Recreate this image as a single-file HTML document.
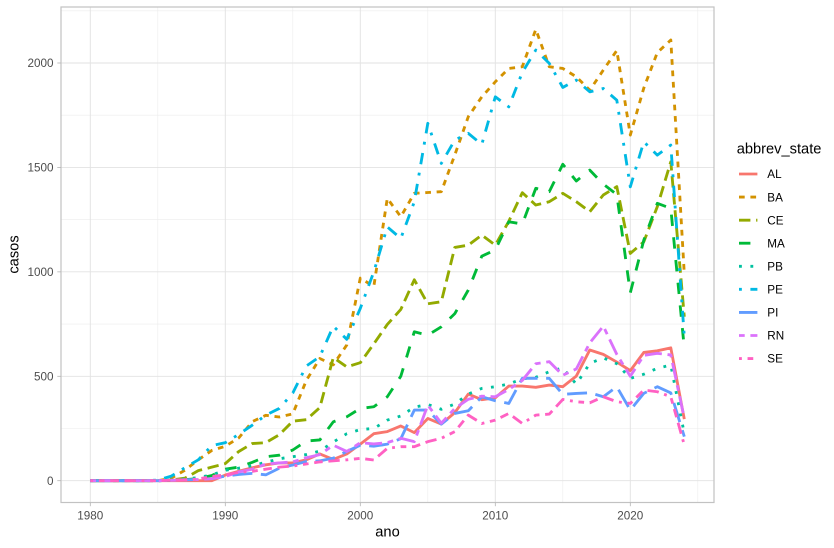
<!DOCTYPE html>
<html><head><meta charset="utf-8"><style>
html,body{margin:0;padding:0;background:#fff;}
svg{display:block;font-family:"Liberation Sans",Arial,sans-serif;}
</style></head><body>
<svg id="s" width="834" height="548" viewBox="0 0 834 548" xmlns="http://www.w3.org/2000/svg">
<rect x="0" y="0" width="834" height="548" fill="#fff"/>
<g stroke="#ececec" stroke-width="0.6" fill="none">
<line x1="61" x2="714" y1="428.5" y2="428.5"/>
<line x1="61" x2="714" y1="324.1" y2="324.1"/>
<line x1="61" x2="714" y1="219.6" y2="219.6"/>
<line x1="61" x2="714" y1="115.2" y2="115.2"/>
<line x1="61" x2="714" y1="10.8" y2="10.8"/>
<line y1="7" y2="502" x1="157.8" x2="157.8"/>
<line y1="7" y2="502" x1="292.8" x2="292.8"/>
<line y1="7" y2="502" x1="427.8" x2="427.8"/>
<line y1="7" y2="502" x1="562.8" x2="562.8"/>
<line y1="7" y2="502" x1="697.8" x2="697.8"/>
</g>
<g stroke="#e2e2e2" stroke-width="0.9" fill="none">
<line x1="61" x2="714" y1="480.7" y2="480.7"/>
<line x1="61" x2="714" y1="376.3" y2="376.3"/>
<line x1="61" x2="714" y1="271.85" y2="271.85"/>
<line x1="61" x2="714" y1="167.4" y2="167.4"/>
<line x1="61" x2="714" y1="63" y2="63"/>
<line y1="7" y2="502" x1="90.3" x2="90.3"/>
<line y1="7" y2="502" x1="225.3" x2="225.3"/>
<line y1="7" y2="502" x1="360.3" x2="360.3"/>
<line y1="7" y2="502" x1="495.3" x2="495.3"/>
<line y1="7" y2="502" x1="630.3" x2="630.3"/>
</g>
<g id="series" fill="none" stroke-width="2.85" stroke-linecap="butt" stroke-linejoin="round"></g>
<rect x="61" y="7" width="653" height="495.5" fill="none" stroke="#c2c2c2" stroke-width="1.2"/>
<g stroke="#b3b3b3" stroke-width="0.8">
<line x1="57.3" x2="61" y1="480.7" y2="480.7"/>
<line x1="57.3" x2="61" y1="376.3" y2="376.3"/>
<line x1="57.3" x2="61" y1="271.85" y2="271.85"/>
<line x1="57.3" x2="61" y1="167.4" y2="167.4"/>
<line x1="57.3" x2="61" y1="63" y2="63"/>
<line y1="502.5" y2="506.2" x1="90.3" x2="90.3"/>
<line y1="502.5" y2="506.2" x1="225.3" x2="225.3"/>
<line y1="502.5" y2="506.2" x1="360.3" x2="360.3"/>
<line y1="502.5" y2="506.2" x1="495.3" x2="495.3"/>
<line y1="502.5" y2="506.2" x1="630.3" x2="630.3"/>
</g>
<g fill="#4d4d4d" font-size="11.7" text-anchor="end">
<text x="53.5" y="484.9">0</text>
<text x="53.5" y="380.5">500</text>
<text x="53.5" y="276">1000</text>
<text x="53.5" y="171.6">1500</text>
<text x="53.5" y="67.2">2000</text>
</g>
<g fill="#4d4d4d" font-size="11.7" text-anchor="middle">
<text x="90.3" y="519.3">1980</text>
<text x="225.3" y="519.3">1990</text>
<text x="360.3" y="519.3">2000</text>
<text x="495.3" y="519.3">2010</text>
<text x="630.3" y="519.3">2020</text>
</g>
<text x="387.5" y="536.7" font-size="14.67" text-anchor="middle" fill="#000">ano</text>
<text transform="translate(18.3,254.5) rotate(-90)" font-size="14.67" text-anchor="middle" fill="#000">casos</text>
<text x="736.7" y="153.5" font-size="14.67" fill="#000">abbrev_state</text>
<g id="legend" fill="none" stroke-width="2.85" stroke-linecap="butt"></g>
<g font-size="11.7" fill="#000">
<text x="767.3" y="178.2">AL</text>
<text x="767.3" y="201.3">BA</text>
<text x="767.3" y="224.3">CE</text>
<text x="767.3" y="247.4">MA</text>
<text x="767.3" y="270.5">PB</text>
<text x="767.3" y="293.5">PE</text>
<text x="767.3" y="316.6">PI</text>
<text x="767.3" y="339.7">RN</text>
<text x="767.3" y="362.7">SE</text>
</g>
</svg>
<script>
(function(){
var L=2.85;
function d(a){return a.map(function(v){return (v*L).toFixed(2);}).join(" ");}
var S=[
["#F8766D",null,[0,0,0,0,0,0,0,0,0,0,27,45,62,76,85,85,100,128,102,128,175,225,235,262,230,298,271,326,415,388,397,453,453,447,458,450,501,626,605,568,527,614,622,636,295]],
["#D39200",[2,2],[0,0,0,0,0,0,12,50,100,145,165,205,283,313,305,320,480,585,555,650,970,930,1352,1264,1376,1380,1384,1560,1743,1838,1910,1974,1982,2161,1982,1974,1934,1870,1966,2060,1655,1880,2050,2110,990]],
["#93AA00",[4,2],[0,0,0,0,0,0,3,12,48,65,82,140,178,182,220,285,292,350,590,545,565,655,748,820,962,847,857,1117,1128,1176,1128,1242,1379,1320,1336,1376,1336,1288,1368,1408,1088,1144,1312,1527,785]],
["#00BA38",[4,4],[0,0,0,0,0,0,2,5,10,25,55,65,88,115,122,147,190,195,282,306,346,354,402,500,713,697,737,800,913,1075,1105,1240,1229,1400,1384,1515,1435,1487,1420,1370,900,1152,1328,1304,634]],
["#00C19F",[1,3],[0,0,0,0,0,0,3,8,15,28,50,60,72,88,105,115,125,142,185,225,245,250,290,310,352,365,342,367,415,442,450,463,488,495,522,540,462,562,588,560,490,510,538,554,225]],
["#00B9E3",[1,3,4,3],[0,0,0,0,0,3,22,62,100,168,182,222,266,314,346,420,549,594,740,677,825,1000,1215,1160,1335,1711,1519,1631,1663,1610,1838,1790,1955,2062,1998,1883,1918,1862,1878,1822,1407,1623,1559,1607,690]],
["#619CFF",[7,3],[0,0,0,0,0,0,2,4,6,10,22,30,35,28,60,75,92,95,108,140,170,165,175,201,338,338,271,322,335,402,383,370,490,490,490,413,418,421,402,450,338,418,450,420,211]],
["#DB72FB",[2,2,6,2],[0,0,0,0,0,0,2,4,6,10,20,42,55,80,85,90,110,125,170,140,182,176,182,203,187,362,275,346,390,405,402,437,480,560,570,505,535,660,740,605,500,600,610,602,298]],
["#FF61C3",[1,2,2,2,3,2,4,2],[0,0,0,0,0,0,2,4,8,20,28,40,45,55,65,70,80,90,95,100,107,99,155,163,163,187,203,235,314,274,290,322,274,314,319,389,378,373,402,378,370,434,426,402,171]]
];
var NS="http://www.w3.org/2000/svg";
var g=document.getElementById("series"),lg=document.getElementById("legend");
S.forEach(function(s,k){
  var p="";
  s[2].forEach(function(v,i){
    var x=90.3+13.5*i, y=480.7-0.20885*v;
    p+=(i?"L":"M")+x.toFixed(2)+" "+y.toFixed(2);
  });
  var e=document.createElementNS(NS,"path");
  e.setAttribute("d",p);e.setAttribute("stroke",s[0]);
  if(s[1])e.setAttribute("stroke-dasharray",d(s[1]));
  g.appendChild(e);
  var yy=174+23.07*k;
  var l=document.createElementNS(NS,"line");
  l.setAttribute("x1","739");l.setAttribute("x2","757.4");
  l.setAttribute("y1",yy);l.setAttribute("y2",yy);
  l.setAttribute("stroke",s[0]);
  if(s[1])l.setAttribute("stroke-dasharray",d(s[1]));
  lg.appendChild(l);
});
})();
</script>
</body></html>
